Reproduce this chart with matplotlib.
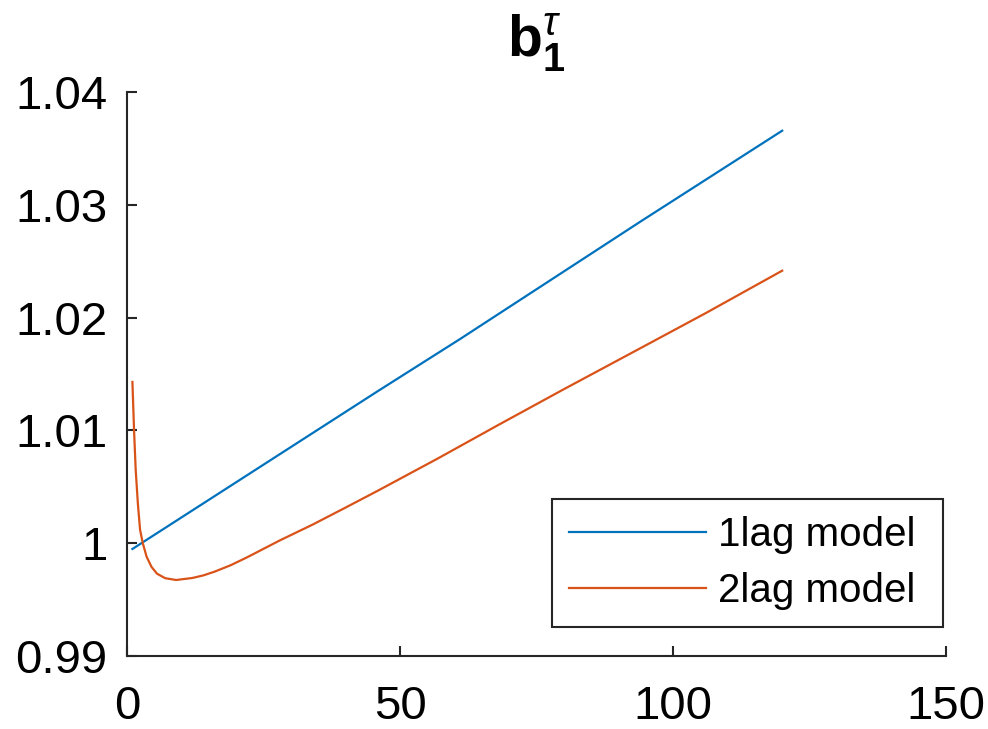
import numpy as np
import matplotlib
matplotlib.use("Agg")
import matplotlib.pyplot as plt

plt.rcParams['font.family'] = ['Liberation Sans', 'DejaVu Sans']
plt.rcParams['mathtext.fontset'] = 'custom'
plt.rcParams['mathtext.rm'] = 'Liberation Sans'
plt.rcParams['mathtext.bf'] = 'Liberation Sans:bold'
plt.rcParams['mathtext.it'] = 'Liberation Sans:italic'

# values
x_1lag = [1, 46, 61, 94, 120]
y_1lag = [0.99949, 1.0135, 1.0181, 1.0285, 1.03657]

x_2lag = [1, 1.3, 1.6, 2, 2.4, 2.9, 3.6, 4.5, 5.5, 7, 9, 12, 14, 16, 19, 22,
          25, 28, 31, 34, 40, 46, 57, 68, 80, 94, 106, 120]
y_2lag = [1.0143, 1.0100, 1.0065, 1.0035, 1.0012, 1.0000, 0.9988, 0.9979,
          0.9973, 0.9969, 0.99674, 0.99692, 0.99715, 0.99747, 0.99805,
          0.99875, 0.99950, 1.00025, 1.00095, 1.00165, 1.00315, 1.00467,
          1.00753, 1.01048, 1.01365, 1.01728, 1.02040, 1.02416]

labels = ['1lag model', '2lag model']
colors = ['#0072BD', '#D95319']
xticks = [0, 50, 100, 150]
yticks = [0.99, 1.00, 1.01, 1.02, 1.03, 1.04]
ytick_labels = ['0.99', '1', '1.01', '1.02', '1.03', '1.04']

fig = plt.figure(figsize=(9.88, 7.29), dpi=100)
ax = fig.add_axes([0.1285, 0.1001, 0.829, 0.7737])

ax.plot(x_1lag, y_1lag, color=colors[0], linewidth=1.6, label=labels[0])
ax.plot(x_2lag, y_2lag, color=colors[1], linewidth=1.6, label=labels[1])

ax.set_xlim(0, 150)
ax.set_ylim(0.99, 1.04)
ax.set_xticks(xticks)
ax.set_xticklabels([str(t) for t in xticks])
ax.set_yticks(yticks)
ax.set_yticklabels(ytick_labels)

for side in ['top', 'right']:
    ax.spines[side].set_visible(False)
for side in ['left', 'bottom']:
    ax.spines[side].set_color('#262626')
    ax.spines[side].set_linewidth(1.5)
ax.tick_params(direction='in', length=7, width=1.5, color='#262626',
               labelsize=34, labelcolor='#000000')
ax.tick_params(axis='y', pad=14)
ax.tick_params(axis='x', pad=21)

ax.set_title(r'$\mathbf{b}_{\mathbf{1}}^{\tau}$', fontsize=41, pad=26)

leg = ax.legend(loc='lower right', bbox_to_anchor=(0.519, 0.0514, 0.4773, 0.2),
                mode='expand', borderaxespad=0, fontsize=29, handlelength=3.4,
                fancybox=False, framealpha=1, labelspacing=0.45,
                borderpad=0.42, handletextpad=0.3)
leg.get_frame().set_edgecolor('#262626')
leg.get_frame().set_linewidth(1.5)

fig.savefig('out.png', dpi=100)
